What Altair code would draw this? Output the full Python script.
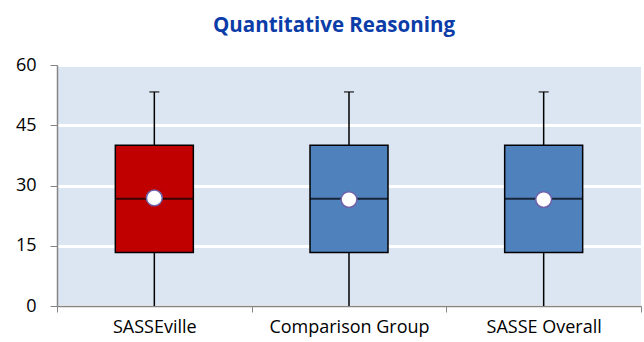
import altair as alt
import pandas as pd

categories = ["SASSEville", "Comparison Group", "SASSE Overall"]
mins = [0, 0, 0]
q1s = [13.3, 13.3, 13.3]
medians = [26.7, 26.7, 26.7]
q3s = [40.0, 40.0, 40.0]
maxs = [53.3, 53.3, 53.3]
means = [26.9, 26.5, 26.5]
colors = ["#C00000", "#4F81BD", "#4F81BD"]

df = pd.DataFrame({
    "cat": categories, "min": mins, "q1": q1s, "median": medians,
    "q3": q3s, "max": maxs, "mean": means, "color": colors,
})

FONT = "Open Sans"
xenc = alt.X("cat:N", sort=categories, title=None,
             scale=alt.Scale(paddingInner=0, paddingOuter=0),
             axis=alt.Axis(labelAngle=0, labelFontSize=18, labelFont=FONT, labelColor="#000000",
                           domainColor="#868686", domainWidth=1.5, tickColor="#868686",
                           tickBand="extent", tickSize=6, labelPadding=6, grid=False))
yscale = alt.Scale(domain=[0, 60], nice=False)
yaxis = alt.Axis(values=[0, 15, 30, 45, 60], labelFontSize=18, labelFont=FONT, labelColor="#000000",
                 domainColor="#868686", domainWidth=1.5, tickColor="#868686", tickSize=7,
                 labelPadding=14, grid=True, gridColor="#FFFFFF", gridWidth=3, title=None)

base = alt.Chart(df).encode(x=xenc)

whisker = base.mark_rule(color="#000000", strokeWidth=1.5).encode(
    y=alt.Y("min:Q", scale=yscale, axis=yaxis), y2="max:Q")
cap = base.mark_tick(color="#000000", size=10, thickness=1.5).encode(
    y=alt.Y("max:Q", scale=yscale))
box = base.mark_bar(size=78, stroke="#000000", strokeWidth=1.5).encode(
    y=alt.Y("q1:Q", scale=yscale), y2="q3:Q",
    color=alt.Color("color:N", scale=None))
med = base.mark_tick(color="#000000", size=78, thickness=2).encode(
    y=alt.Y("median:Q", scale=yscale))
meanpt = base.mark_point(filled=True, fill="#FFFFFF", stroke="#7061A8", strokeWidth=1.5,
                         size=250, opacity=1).encode(y=alt.Y("mean:Q", scale=yscale))

chart = alt.layer(whisker, cap, box, med, meanpt).properties(
    width=584, height=241,
    background="#FFFFFF",
    title=alt.TitleParams("Quantitative Reasoning", font=FONT, fontSize=20.5, fontWeight="bold",
                          color="#0B3CA8", anchor="middle", offset=20, dx=-15),
    autosize=alt.AutoSizeParams(type="none"),
    padding={"left": 57, "top": 65, "right": 3, "bottom": 36},
).configure_view(fill="#DCE6F2", stroke=None)

chart.save("out.html", embed_options={"renderer": "svg", "actions": False})
